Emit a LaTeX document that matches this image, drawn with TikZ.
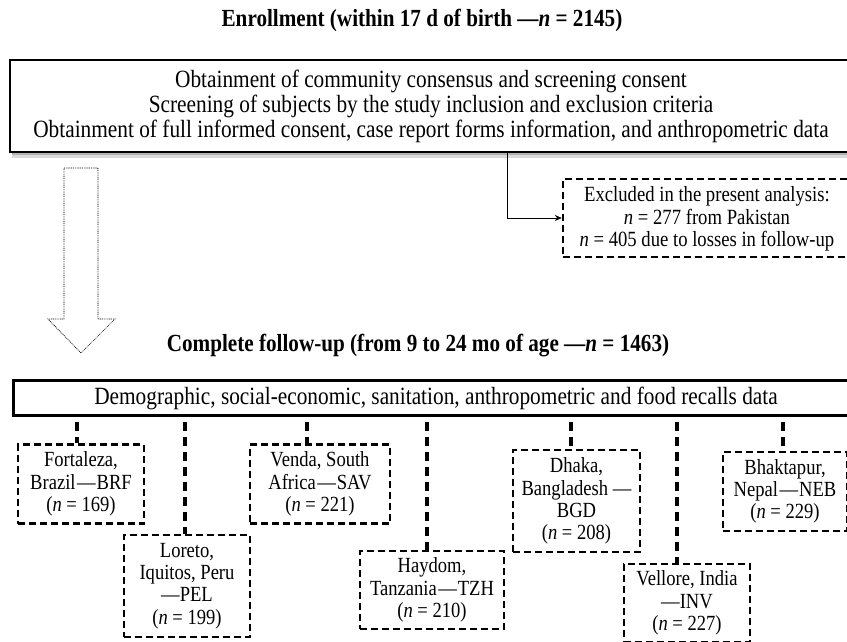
\documentclass[tikz,border=0pt]{standalone}
\usepackage{fontspec}
\setmainfont{Liberation Serif}
\newfontfamily\cond{Liberation Serif}[FakeStretch=0.86]
\usetikzlibrary{arrows.meta}
\newcommand{\dsh}{\kern1.5pt—\kern1pt}
\begin{document}
\begin{tikzpicture}[x=1pt,y=-1pt,
  solidbox/.style={draw=black,line width=2.6pt,fill=white,inner sep=0pt},
  dbox/.style={draw=black,line width=2.4pt,dash pattern=on 7pt off 4pt,fill=white,inner sep=0pt,align=center,font=\cond\fontsize{21.6}{22.3}\selectfont},
  conn/.style={draw=black,line width=3.4pt,dash pattern=on 9pt off 6pt},
  heading/.style={font=\cond\fontsize{24.6}{26}\selectfont\bfseries},
  thinarrow/.style={draw=black,line width=0.9pt,-{Stealth[length=7pt,width=6pt]}}
]
\useasboundingbox (0,0) rectangle (847,642);

% heading 1
\node[heading] (h1) at (422,20.5) {Enrollment (within 17 d of birth —\textit{n} = 2145)};

% shadow of top box
\fill[gray!30] (12,151) rectangle (852,158);
\fill[gray!60] (12,151) rectangle (852,155);

% top box
\node[solidbox,minimum width=842pt,minimum height=92pt,align=center,
      font=\cond\fontsize{24.8}{25}\selectfont] (top) at (431,106)
  {Obtainment of community consensus and screening consent\\
   Screening of subjects by the study inclusion and exclusion criteria\\
   Obtainment of full informed consent, case report forms information, and anthropometric data};

% excluded box
\node[dbox,minimum width=290pt,minimum height=78pt] (excl) at (708,218) {};
\node[align=center,font=\cond\fontsize{21.7}{22.5}\selectfont] (excltext) at (707,219)
  {Excluded in the present analysis:\\
   \textit{n} = 277 from Pakistan\\
   \textit{n} = 405 due to losses in follow-up};

\coordinate (bend) at (507,218);
\draw[line width=0.9pt] (top.south -| bend) -- (bend);
\draw[thinarrow] (bend) -- (excl.west |- bend);

% big dotted arrow
\draw[line width=0.7pt,dash pattern=on 0.9pt off 0.9pt,line join=miter]
  (64,168) -- (98,168) -- (98,319) -- (115,319) -- (81,353) -- (48,319) -- (64,319) -- cycle;

% heading 2
\node[heading] (h2) at (418,346) {Complete follow-up (from 9 to 24 mo of age —\textit{n} = 1463)};

% second box
\node[solidbox,line width=3pt,minimum width=850pt,minimum height=35pt,
      font=\cond\fontsize{24.8}{26}\selectfont] (demo) at (438,398)
  {\hspace*{-4pt}Demographic, social-economic, sanitation, anthropometric and food recalls data};

% site boxes
\node[dbox,minimum width=126pt,minimum height=79pt] (fort) at (81,484)
  {Fortaleza,\\Brazil\dsh BRF\\(\textit{n} = 169)};
\node[dbox,minimum width=126pt,minimum height=102pt] (lor) at (187,586)
  {Loreto,\\Iquitos, Peru\\—PEL\\(\textit{n} = 199)};
\node[dbox,minimum width=140pt,minimum height=79pt] (ven) at (320,484)
  {Venda, South\\Africa\dsh SAV\\(\textit{n} = 221)};
\node[dbox,minimum width=144pt,minimum height=78pt] (hay) at (432,590)
  {Haydom,\\Tanzania\dsh TZH\\(\textit{n} = 210)};
\node[dbox,minimum width=127pt,minimum height=102pt] (dha) at (576.5,501)
  {Dhaka,\\Bangladesh —\\BGD\\(\textit{n} = 208)};
\node[dbox,minimum width=126pt,minimum height=78pt] (vel) at (687,603)
  {Vellore, India\\—INV\\(\textit{n} = 227)};
\node[dbox,minimum width=124pt,minimum height=79pt] (bha) at (785,491.5)
  {Bhaktapur,\\Nepal\dsh NEB\\(\textit{n} = 229)};

% connectors
\foreach \b/\x in {fort/77,lor/185,ven/307,hay/427,dha/571,vel/677,bha/783}{
  \coordinate (c\b) at (\x,0);
  \draw[conn,shorten <=5pt] (demo.south -| c\b) -- (\b.north -| c\b);
}
\end{tikzpicture}
\end{document}
